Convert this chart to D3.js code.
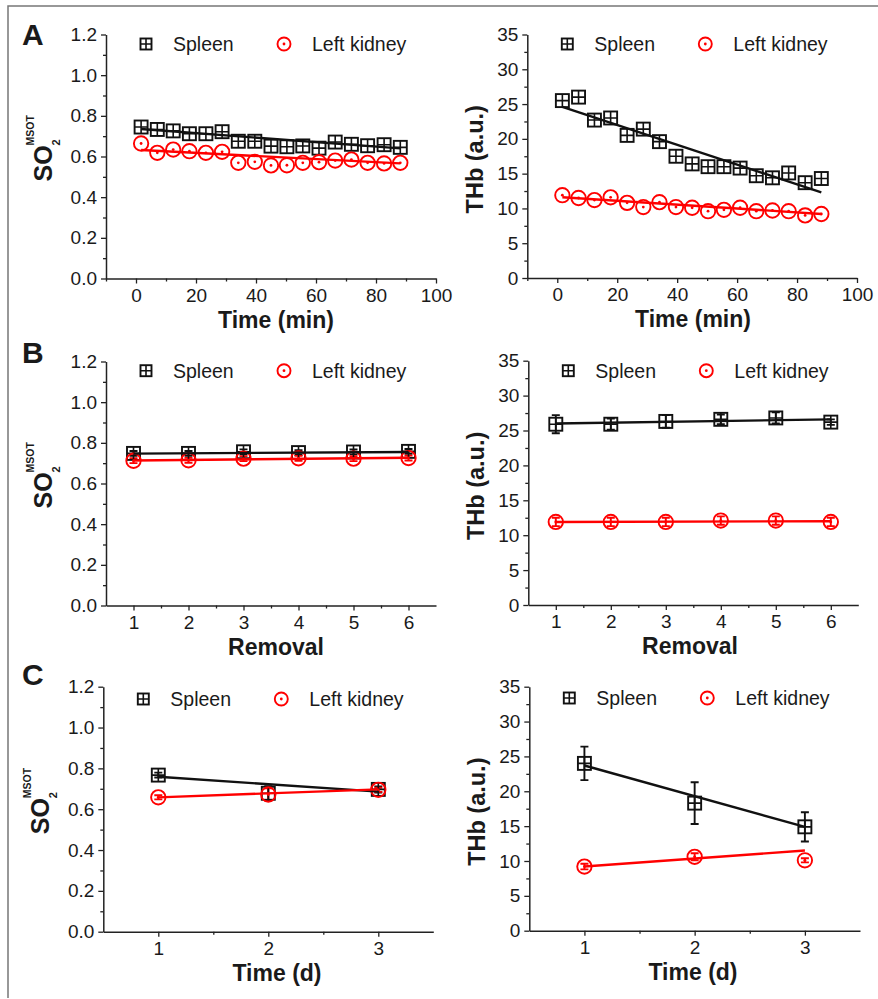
<!DOCTYPE html>
<html>
<head>
<meta charset="utf-8">
<script src="https://cdn.jsdelivr.net/npm/d3@7"></script>
<style>
  body { margin: 0; background: #fff; }
  svg text { font-family: "Liberation Sans", Arial, sans-serif; fill: #1a1a1a; }
</style>
</head>
<body>
<div id="chart"></div>
<script>
// ---- data ----
let seriesNames = ["Spleen", "Left kidney"];

// A: over 90 min
let timeMin = [1.7, 7.1, 12.4, 17.8, 23.3, 28.7, 34.1, 39.6, 45.0, 50.3, 55.6, 61.0, 66.4, 71.8, 77.2, 82.7, 88.1];
let aSpleenSO2 = [0.745, 0.733, 0.726, 0.712, 0.712, 0.722, 0.675, 0.675, 0.651, 0.648, 0.652, 0.641, 0.671, 0.660, 0.653, 0.658, 0.645];
let aKidneySO2 = [0.664, 0.618, 0.634, 0.626, 0.618, 0.623, 0.569, 0.574, 0.556, 0.557, 0.569, 0.572, 0.580, 0.585, 0.569, 0.566, 0.569];
let aSpleenTHb = [25.5, 26.0, 22.7, 23.0, 20.5, 21.4, 19.6, 17.5, 16.4, 16.0, 16.0, 15.8, 14.7, 14.4, 15.1, 13.7, 14.3];
let aKidneyTHb = [11.9, 11.5, 11.2, 11.6, 10.8, 10.2, 10.9, 10.2, 10.1, 9.6, 9.8, 10.1, 9.6, 9.7, 9.6, 9.0, 9.2];
let aSpleenSO2Fit = [0.735, 0.640];
let aKidneySO2Fit = [0.632, 0.566];
let aSpleenTHbFit = [24.6, 12.3];
let aKidneyTHbFit = [11.6, 9.2];

// B: repeated removal
let removal = [1, 2, 3, 4, 5, 6];
let bSpleenSO2 = [0.748, 0.748, 0.756, 0.752, 0.755, 0.758];
let bSpleenSO2Err = [0.012, 0.012, 0.012, 0.012, 0.012, 0.012];
let bKidneySO2 = [0.712, 0.714, 0.722, 0.724, 0.722, 0.725];
let bKidneySO2Err = [0.012, 0.012, 0.012, 0.012, 0.012, 0.012];
let bSpleenTHb = [25.9, 25.9, 26.3, 26.6, 26.8, 26.2];
let bSpleenTHbErr = [1.3, 0.8, 0.9, 0.7, 0.8, 0.4];
let bKidneyTHb = [11.9, 11.9, 11.9, 12.1, 12.1, 11.9];
let bKidneyTHbErr = [0.6, 0.6, 0.6, 0.6, 0.6, 0.6];
let bSpleenSO2Fit = [0.747, 0.755];
let bKidneySO2Fit = [0.713, 0.727];
let bSpleenTHbFit = [26.0, 26.6];
let bKidneyTHbFit = [11.9, 12.0];

// C: over 3 days
let days = [1, 2, 3];
let cSpleenSO2 = [0.767, 0.678, 0.697];
let cSpleenSO2Err = [0.012, 0.035, 0.015];
let cKidneySO2 = [0.658, 0.672, 0.695];
let cKidneySO2Err = [0.010, 0.030, 0.010];
let cSpleenTHb = [24.0, 18.3, 14.9];
let cSpleenTHbErr = [2.4, 3.0, 2.1];
let cKidneyTHb = [9.2, 10.6, 10.1];
let cKidneyTHbErr = [0.4, 0.5, 0.3];
let cSpleenSO2Fit = [0.759, 0.686];
let cKidneySO2Fit = [0.658, 0.697];
let cSpleenTHbFit = [23.7, 14.9];
let cKidneyTHbFit = [9.2, 11.5];

// ticks
let so2Ticks = [0, 0.2, 0.4, 0.6, 0.8, 1.0, 1.2];
let so2Minor = [0.1, 0.3, 0.5, 0.7, 0.9, 1.1];
let thbTicks = [0, 5, 10, 15, 20, 25, 30, 35];
let thbMinor = [2.5, 7.5, 12.5, 17.5, 22.5, 27.5, 32.5];
let minTicks = [0, 20, 40, 60, 80, 100];
let minMinor = [-10, 10, 30, 50, 70, 90];
let removalMinor = [1.5, 2.5, 3.5, 4.5, 5.5];
let dayMinor = [1.5, 2.5];

let BLACK = "#111", RED = "#ff0000";

let svg = d3.select("#chart").append("svg")
  .attr("width", 878)
  .attr("height", 999);

// thin figure frame (top + left)
svg.append("path")
  .attr("d", "M8,998V6H878")
  .attr("fill", "none")
  .attr("stroke", "#777")
  .attr("stroke-width", 1.5);

function spleenMarker(g, s) {
  g.append("rect").attr("x", -s / 2).attr("y", -s / 2).attr("width", s).attr("height", s)
    .attr("fill", "none").attr("stroke", BLACK).attr("stroke-width", 1.9);
  g.append("path").attr("d", `M${-s / 2},0H${s / 2}M0,${-s / 2}V${s / 2}`)
    .attr("stroke", BLACK).attr("stroke-width", 1.6);
}

function kidneyMarker(g, r) {
  g.append("circle").attr("r", r).attr("fill", "none").attr("stroke", RED).attr("stroke-width", 1.9);
  g.append("circle").attr("r", 1.4).attr("fill", RED);
}

function drawPanel(p) {
  let x = d3.scaleLinear().domain(p.xDomain).range([p.left, p.right]);
  let y = d3.scaleLinear().domain(p.yDomain).range([p.bottom, p.top]);
  let g = svg.append("g");

  // minor ticks first
  g.append("g").attr("transform", `translate(0,${p.bottom})`)
    .call(d3.axisBottom(x).tickValues(p.xMinor).tickSize(3).tickFormat("").tickSizeOuter(0))
    .call(a => a.select(".domain").remove());
  g.append("g").attr("transform", `translate(${p.left},0)`)
    .call(d3.axisLeft(y).tickValues(p.yMinor).tickSize(3).tickFormat("").tickSizeOuter(0))
    .call(a => a.select(".domain").remove());

  let xAxis = g.append("g").attr("transform", `translate(0,${p.bottom})`)
    .call(d3.axisBottom(x).tickValues(p.xTicks).tickSize(5).tickPadding(5).tickSizeOuter(0)
      .tickFormat(d3.format("d")));
  let yAxis = g.append("g").attr("transform", `translate(${p.left},0)`)
    .call(d3.axisLeft(y).tickValues(p.yTicks).tickSize(5).tickPadding(4).tickSizeOuter(0)
      .tickFormat(p.yFmt));
  g.selectAll(".domain").attr("stroke", "#222").attr("stroke-width", 1.5);
  g.selectAll(".tick line").attr("stroke", "#222").attr("stroke-width", 1.3);
  [xAxis, yAxis].forEach(a => a.selectAll("text")
    .style("font-size", "19px").style("font-family", "Liberation Sans, Arial, sans-serif")
    .attr("fill", "#1a1a1a"));

  // axis titles
  g.append("text")
    .attr("x", p.xTitleX).attr("y", p.bottom + 49)
    .attr("text-anchor", "middle")
    .style("font-size", "23px").style("font-weight", "bold")
    .text(p.xLabel);

  let midY = (p.top + p.bottom) / 2;
  if (p.yKind === "so2") {
    let t = g.append("text")
      .attr("transform", `translate(${p.left - 54},${midY + 25}) rotate(-90)`)
      .style("font-weight", "bold");
    t.append("tspan").style("font-size", "25px").text("SO");
    t.append("tspan").attr("x", 36).attr("dy", 8).style("font-size", "11px").text("2");
    t.append("tspan").attr("x", 36).attr("dy", -26).style("font-size", "10.5px").text("MSOT");
  } else {
    g.append("text")
      .attr("transform", `translate(${p.left - 44},${midY + 3}) rotate(-90)`)
      .attr("text-anchor", "middle")
      .style("font-size", "23.5px").style("font-weight", "bold")
      .text("THb (a.u.)");
  }

  // error bars
  let series = [
    { xs: p.xs, ys: p.spleen, err: p.spleenErr, fit: p.spleenFit, color: BLACK, kind: "spleen" },
    { xs: p.xs, ys: p.kidney, err: p.kidneyErr, fit: p.kidneyFit, color: RED, kind: "kidney" }
  ];
  series.forEach(s => {
    if (!s.err) return;
    let eb = g.append("g");
    s.ys.forEach((v, i) => {
      let cx = x(s.xs[i]);
      eb.append("path")
        .attr("d", `M${cx},${y(v - s.err[i])}V${y(v + s.err[i])}` +
          `M${cx - 4},${y(v - s.err[i])}H${cx + 4}M${cx - 4},${y(v + s.err[i])}H${cx + 4}`)
        .attr("fill", "none").attr("stroke", s.color).attr("stroke-width", 1.9);
    });
  });

  // markers
  series.forEach(s => {
    g.append("g").selectAll("g")
      .data(s.ys)
      .enter()
      .append("g")
      .attr("transform", (d, i) => `translate(${x(s.xs[i])},${y(d)})`)
      .each(function () {
        if (s.kind === "spleen") spleenMarker(d3.select(this), 13);
        else kidneyMarker(d3.select(this), 7.2);
      });
  });

  // linear fits
  series.forEach(s => {
    let xEnds = [s.xs[0], s.xs[s.xs.length - 1]];
    g.append("path")
      .datum(s.fit)
      .attr("d", d3.line().x((d, i) => x(xEnds[i])).y(d => y(d)))
      .attr("fill", "none").attr("stroke", s.color).attr("stroke-width", 2.4);
  });

  // legend
  let lg = g.append("g").attr("transform", `translate(${p.left},${p.legendY})`);
  spleenMarker(lg.append("g").attr("transform", "translate(40,0)"), 11);
  kidneyMarker(lg.append("g").attr("transform", "translate(178,0)"), 6.5);
  lg.append("text").attr("x", 67).attr("y", 7).style("font-size", "19.5px").text(seriesNames[0]);
  lg.append("text").attr("x", 206).attr("y", 7).style("font-size", "19.5px").text(seriesNames[1]);

  if (p.letter) {
    svg.append("text").attr("x", 22).attr("y", p.letterY)
      .style("font-size", "30px").style("font-weight", "bold")
      .text(p.letter);
  }
}

let fmt1 = d3.format(".1f"), fmt0 = d3.format("d");

// Row A
drawPanel({ left: 106, right: 436, top: 34.5, bottom: 278.5, xDomain: [-10, 100], yDomain: [0, 1.2],
  xTicks: minTicks, xMinor: minMinor, yTicks: so2Ticks, yMinor: so2Minor, yFmt: fmt1,
  xLabel: "Time (min)", xTitleX: 276, yKind: "so2", legendY: 44, letter: "A", letterY: 45,
  xs: timeMin, spleen: aSpleenSO2, kidney: aKidneySO2, spleenFit: aSpleenSO2Fit, kidneyFit: aKidneySO2Fit });
drawPanel({ left: 527.3, right: 857, top: 34.5, bottom: 278, xDomain: [-10, 100], yDomain: [0, 35],
  xTicks: minTicks, xMinor: minMinor, yTicks: thbTicks, yMinor: thbMinor, yFmt: fmt0,
  xLabel: "Time (min)", xTitleX: 693, yKind: "thb", legendY: 44,
  xs: timeMin, spleen: aSpleenTHb, kidney: aKidneyTHb, spleenFit: aSpleenTHbFit, kidneyFit: aKidneyTHbFit });

// Row B
drawPanel({ left: 106, right: 436, top: 361.5, bottom: 605.5, xDomain: [0.5, 6.5], yDomain: [0, 1.2],
  xTicks: removal, xMinor: removalMinor, yTicks: so2Ticks, yMinor: so2Minor, yFmt: fmt1,
  xLabel: "Removal", xTitleX: 276, yKind: "so2", legendY: 370.7, letter: "B", letterY: 363,
  xs: removal, spleen: bSpleenSO2, kidney: bKidneySO2, spleenErr: bSpleenSO2Err, kidneyErr: bKidneySO2Err,
  spleenFit: bSpleenSO2Fit, kidneyFit: bKidneySO2Fit });
drawPanel({ left: 528.3, right: 858.3, top: 360.7, bottom: 605, xDomain: [0.5, 6.5], yDomain: [0, 35],
  xTicks: removal, xMinor: removalMinor, yTicks: thbTicks, yMinor: thbMinor, yFmt: fmt0,
  xLabel: "Removal", xTitleX: 690, yKind: "thb", legendY: 370.7,
  xs: removal, spleen: bSpleenTHb, kidney: bKidneyTHb, spleenErr: bSpleenTHbErr, kidneyErr: bKidneyTHbErr,
  spleenFit: bSpleenTHbFit, kidneyFit: bKidneyTHbFit });

// Row C
drawPanel({ left: 103.3, right: 433.3, top: 686.7, bottom: 931.7, xDomain: [0.5, 3.5], yDomain: [0, 1.2],
  xTicks: days, xMinor: dayMinor, yTicks: so2Ticks, yMinor: so2Minor, yFmt: fmt1,
  xLabel: "Time (d)", xTitleX: 277, yKind: "so2", legendY: 699, letter: "C", letterY: 685,
  xs: days, spleen: cSpleenSO2, kidney: cKidneySO2, spleenErr: cSpleenSO2Err, kidneyErr: cKidneySO2Err,
  spleenFit: cSpleenSO2Fit, kidneyFit: cKidneySO2Fit });
drawPanel({ left: 529.3, right: 860, top: 686.7, bottom: 930.7, xDomain: [0.5, 3.5], yDomain: [0, 35],
  xTicks: days, xMinor: dayMinor, yTicks: thbTicks, yMinor: thbMinor, yFmt: fmt0,
  xLabel: "Time (d)", xTitleX: 693, yKind: "thb", legendY: 698,
  xs: days, spleen: cSpleenTHb, kidney: cKidneyTHb, spleenErr: cSpleenTHbErr, kidneyErr: cKidneyTHbErr,
  spleenFit: cSpleenTHbFit, kidneyFit: cKidneyTHbFit });
</script>
</body>
</html>
